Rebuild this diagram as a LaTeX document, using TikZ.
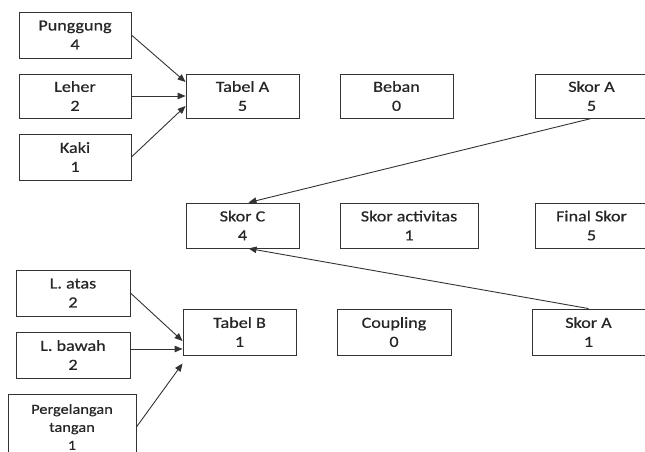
\documentclass[tikz,border=0pt]{standalone}
\usepackage{fontspec}
\setmainfont[FakeStretch=1.17, FakeBold=0.6]{Carlito}
\usetikzlibrary{arrows.meta}
\begin{document}
\begin{tikzpicture}[x=1pt, y=-1pt,
   box/.style={draw=black!80, line width=0.9pt, minimum width=113pt, minimum height=45pt,
     align=center, inner sep=0pt, font=\fontsize{15.5}{19}\selectfont, text=black!85,
     execute at begin node={\rule{0pt}{16pt}}},
   arr/.style={draw=black!80, line width=0.9pt, -{Triangle[length=8pt,width=6.5pt]}}]
   \useasboundingbox (0,0) rectangle (645,452);
   \clip (0,0) rectangle (645,452);
   \node[box, minimum width=112pt, minimum height=46pt] (punggung) at (75,35) {Punggung\\4};
   \node[box, minimum width=112pt, minimum height=44pt] (leher) at (75,96) {Leher\\2};
   \node[box, minimum width=112pt, minimum height=46pt] (kaki) at (75,157) {Kaki\\1};
   \node[box, minimum height=44pt] (tabelA) at (242.5,96) {Tabel A\\5};
   \node[box, minimum height=44pt] (beban) at (396.5,96) {Beban\\0};
   \node[box, minimum height=44pt] (skorAa) at (591.5,96) {Skor A\\5};
   \node[box] (skorC) at (242.5,225.5) {Skor C\\4};
   \node[box, minimum width=138pt] (aktivitas) at (409,225.5) {Skor activitas\\1};
   \node[box] (final) at (591.5,225.5) {Final Skor\\5};
   \node[box, minimum width=114pt, minimum height=46pt] (latas) at (73,293) {L. atas\\2};
   \node[box, minimum width=114pt, minimum height=46pt] (lbawah) at (73,355) {L. bawah\\2};
   \node[box, minimum width=128pt, minimum height=66pt, font=\fontsize{14}{18}\selectfont] (pergelangan) at (72,427) {Pergelangan\\tangan\\1};
   \node[box, minimum height=46pt] (tabelB) at (239.5,332) {Tabel B\\1};
   \node[box, minimum width=114pt, minimum height=46pt] (coupling) at (394,332) {Coupling\\0};
   \node[box, minimum height=46pt] (skorAb) at (588.5,332) {Skor A\\1};
   \draw[arr] (punggung.east) -- ([yshift=14pt]tabelA.west);
   \draw[arr] (leher.east) -- (tabelA.west);
   \draw[arr] (kaki.east) -- ([yshift=-10pt]tabelA.west);
   \draw[arr] (skorAa.south) -- ([xshift=6pt]skorC.north);
   \draw[arr] (skorAb.north) -- ([xshift=6pt]skorC.south);
   \draw[arr] (latas.east) -- ([yshift=-9pt]tabelB.west);
   \draw[arr] ([yshift=6pt]lbawah.east) -- ([yshift=-17pt]tabelB.west);
   \draw[arr] (pergelangan.east) -- ([yshift=-8pt]tabelB.south west);
\end{tikzpicture}
\end{document}
